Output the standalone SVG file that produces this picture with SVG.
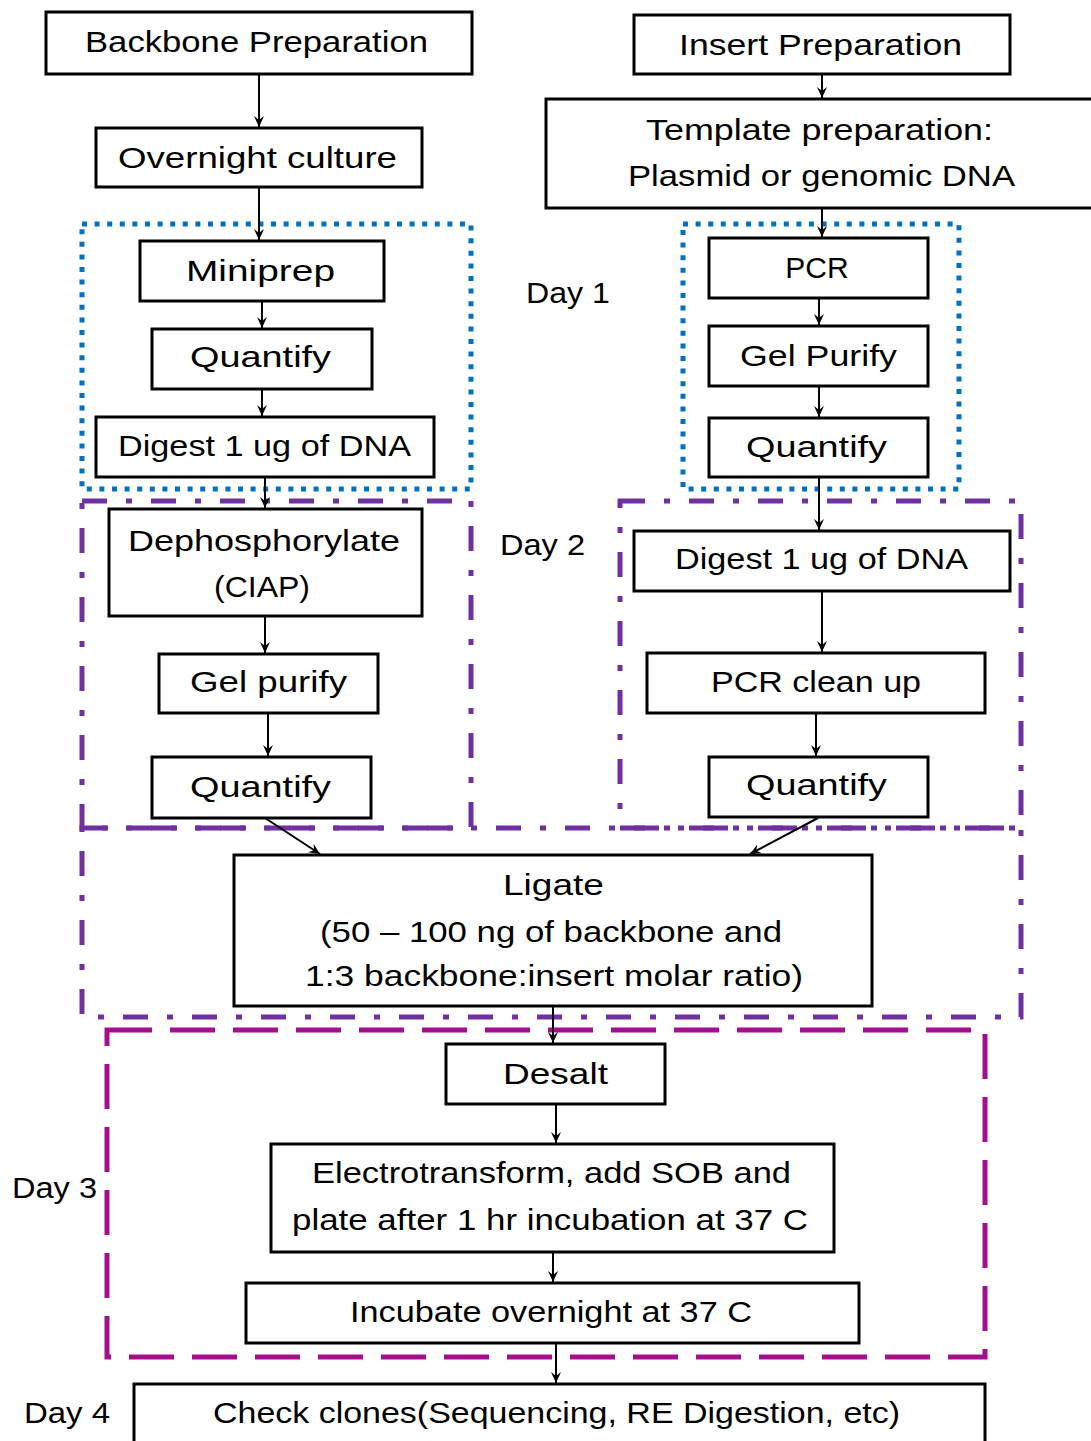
<svg xmlns="http://www.w3.org/2000/svg" width="1091" height="1441" viewBox="0 0 1091 1441">
<defs>
<marker id="ah" markerUnits="userSpaceOnUse" markerWidth="12" markerHeight="12" refX="11" refY="6" orient="auto">
<path d="M0,1 L11,6 L0,11 L4,6 z" fill="#000"/>
</marker>
<style>
.box{fill:#fff;stroke:#000;stroke-width:3}
.t{font-family:"Liberation Sans",Arial,sans-serif;font-size:30px;fill:#000}
.c{text-anchor:middle}
.con{stroke:#000;stroke-width:2;fill:none;marker-end:url(#ah)}
.dot{fill:none;stroke:#0070C0;stroke-width:5;stroke-dasharray:5 7.6}
.dd{fill:none;stroke:#7030A0;stroke-width:5;stroke-dasharray:25 19 6 19}
.dash{fill:none;stroke:#A50F8E;stroke-width:5;stroke-dasharray:45 18}
</style>
</defs>
<rect width="1091" height="1441" fill="#fff"/>

<g id="regions">
<rect class="dot" x="82" y="224" width="389" height="265"/>
<rect class="dot" x="683" y="224" width="276" height="265"/>
<rect class="dd" x="82" y="501" width="389" height="327"/>
<rect class="dd" x="620" y="501" width="401" height="327"/>
<rect class="dd" x="82" y="828" width="939" height="189"/>
<rect class="dash" x="107" y="1030" width="878" height="327"/>
</g>

<g id="labels">
<text class="t" x="526" y="303" textLength="84" lengthAdjust="spacingAndGlyphs">Day 1</text>
<text class="t" x="500" y="555" textLength="85" lengthAdjust="spacingAndGlyphs">Day 2</text>
<text class="t" x="12" y="1198" textLength="85" lengthAdjust="spacingAndGlyphs">Day 3</text>
<text class="t" x="24" y="1423" textLength="86" lengthAdjust="spacingAndGlyphs">Day 4</text>
</g>

<g id="connectors">
<line class="con" x1="259" y1="74" x2="259" y2="127"/>
<line class="con" x1="259" y1="187" x2="259" y2="240"/>
<line class="con" x1="262" y1="301" x2="262" y2="328"/>
<line class="con" x1="262" y1="389" x2="262" y2="416"/>
<line class="con" x1="265" y1="477" x2="265" y2="508"/>
<line class="con" x1="265" y1="616" x2="265" y2="653"/>
<line class="con" x1="268" y1="713" x2="268" y2="756"/>
<line class="con" x1="822" y1="74" x2="822" y2="98"/>
<line class="con" x1="822" y1="208" x2="822" y2="237"/>
<line class="con" x1="819" y1="298" x2="819" y2="325"/>
<line class="con" x1="819" y1="386" x2="819" y2="417"/>
<line class="con" x1="819" y1="477" x2="819" y2="530"/>
<line class="con" x1="822" y1="591" x2="822" y2="652"/>
<line class="con" x1="816" y1="713" x2="816" y2="756"/>
<line class="con" x1="265" y1="818" x2="320" y2="854"/>
<line class="con" x1="818" y1="818" x2="750" y2="854"/>
<line class="con" x1="553" y1="1006" x2="553" y2="1043"/>
<line class="con" x1="556" y1="1104" x2="556" y2="1143"/>
<line class="con" x1="553" y1="1252" x2="553" y2="1282"/>
<line class="con" x1="556" y1="1343" x2="556" y2="1383"/>
</g>

<g id="backbone-prep"><rect class="box" x="46" y="12" width="426" height="62"/><text class="t" x="85" y="52" textLength="343" lengthAdjust="spacingAndGlyphs">Backbone Preparation</text></g>
<g id="overnight"><rect class="box" x="96" y="128" width="326" height="59"/><text class="t" x="118" y="168" textLength="279" lengthAdjust="spacingAndGlyphs">Overnight culture</text></g>
<g id="miniprep"><rect class="box" x="140" y="241" width="244" height="60"/><text class="t" x="186" y="281" textLength="149" lengthAdjust="spacingAndGlyphs">Miniprep</text></g>
<g id="quantify-l1"><rect class="box" x="152" y="329" width="220" height="60"/><text class="t" x="190" y="367" textLength="141" lengthAdjust="spacingAndGlyphs">Quantify</text></g>
<g id="digest-l"><rect class="box" x="96" y="417" width="338" height="60"/><text class="t" x="118" y="456" textLength="293" lengthAdjust="spacingAndGlyphs">Digest 1 ug of DNA</text></g>
<g id="dephos"><rect class="box" x="109" y="509" width="313" height="107"/><text class="t" x="128" y="551" textLength="272" lengthAdjust="spacingAndGlyphs">Dephosphorylate</text><text class="t" x="214" y="597" textLength="96" lengthAdjust="spacingAndGlyphs">(CIAP)</text></g>
<g id="gelpurify-l"><rect class="box" x="159" y="654" width="219" height="59"/><text class="t" x="190" y="692" textLength="157" lengthAdjust="spacingAndGlyphs">Gel purify</text></g>
<g id="quantify-l2"><rect class="box" x="152" y="757" width="219" height="61"/><text class="t" x="190" y="797" textLength="141" lengthAdjust="spacingAndGlyphs">Quantify</text></g>

<g id="insert-prep"><rect class="box" x="634" y="15" width="376" height="59"/><text class="t" x="679" y="55" textLength="283" lengthAdjust="spacingAndGlyphs">Insert Preparation</text></g>
<g id="template"><rect class="box" x="546" y="99" width="550" height="109"/><text class="t" x="646" y="140" textLength="347" lengthAdjust="spacingAndGlyphs">Template preparation:</text><text class="t" x="628" y="186" textLength="387" lengthAdjust="spacingAndGlyphs">Plasmid or genomic DNA</text></g>
<g id="pcr"><rect class="box" x="709" y="238" width="219" height="60"/><text class="t c" x="817" y="278">PCR</text></g>
<g id="gelpurify-r"><rect class="box" x="709" y="326" width="219" height="60"/><text class="t" x="740" y="366" textLength="157" lengthAdjust="spacingAndGlyphs">Gel Purify</text></g>
<g id="quantify-r1"><rect class="box" x="709" y="418" width="219" height="59"/><text class="t" x="746" y="457" textLength="141" lengthAdjust="spacingAndGlyphs">Quantify</text></g>
<g id="digest-r"><rect class="box" x="634" y="531" width="376" height="60"/><text class="t" x="675" y="569" textLength="293" lengthAdjust="spacingAndGlyphs">Digest 1 ug of DNA</text></g>
<g id="pcr-cleanup"><rect class="box" x="647" y="653" width="338" height="60"/><text class="t" x="711" y="692" textLength="210" lengthAdjust="spacingAndGlyphs">PCR clean up</text></g>
<g id="quantify-r2"><rect class="box" x="709" y="757" width="219" height="60"/><text class="t" x="746" y="795" textLength="141" lengthAdjust="spacingAndGlyphs">Quantify</text></g>

<g id="ligate"><rect class="box" x="234" y="855" width="638" height="151"/><text class="t" x="503" y="895" textLength="101" lengthAdjust="spacingAndGlyphs">Ligate</text><text class="t" x="320" y="942" textLength="462" lengthAdjust="spacingAndGlyphs">(50 – 100 ng of backbone and</text><text class="t" x="305" y="986" textLength="498" lengthAdjust="spacingAndGlyphs">1:3 backbone:insert molar ratio)</text></g>
<g id="desalt"><rect class="box" x="446" y="1044" width="219" height="60"/><text class="t" x="503" y="1084" textLength="105" lengthAdjust="spacingAndGlyphs">Desalt</text></g>
<g id="electro"><rect class="box" x="271" y="1144" width="563" height="108"/><text class="t" x="312" y="1183" textLength="479" lengthAdjust="spacingAndGlyphs">Electrotransform, add SOB and</text><text class="t" x="292" y="1230" textLength="516" lengthAdjust="spacingAndGlyphs">plate after 1 hr incubation at 37 C</text></g>
<g id="incubate"><rect class="box" x="246" y="1283" width="613" height="60"/><text class="t" x="350" y="1322" textLength="402" lengthAdjust="spacingAndGlyphs">Incubate overnight at 37 C</text></g>
<g id="check"><rect class="box" x="134" y="1384" width="851" height="70"/><text class="t" x="213" y="1423" textLength="687" lengthAdjust="spacingAndGlyphs">Check clones(Sequencing, RE Digestion, etc)</text></g>
</svg>
